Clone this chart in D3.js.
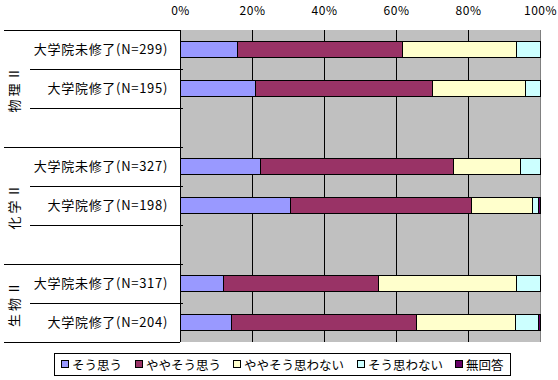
<!DOCTYPE html>
<html>
<head>
<meta charset="utf-8">
<script src="https://cdn.jsdelivr.net/npm/d3@7"></script>
<style>
  body { margin: 0; background: #fff; }
  svg { display: block; font-family: "Noto Sans CJK JP", sans-serif; }
</style>
</head>
<body>
<svg width="558" height="380"></svg>
<script>
// chart data
const groups = ['物理Ⅱ', '化学Ⅱ', '生物Ⅱ'];
const labels = ['大学院未修了(N=299)', '大学院修了(N=195)',
                '大学院未修了(N=327)', '大学院修了(N=198)',
                '大学院未修了(N=317)', '大学院修了(N=204)'];
const groupOf = [0, 0, 1, 1, 2, 2];
const series = ['そう思う', 'ややそう思う', 'ややそう思わない', 'そう思わない', '無回答'];
const soOmou      = [15.9, 21.1, 22.3, 30.8, 12.0, 14.3];
const yaya        = [45.9, 49.0, 53.6, 50.1, 43.1, 51.4];
const yayaNai     = [31.6, 25.8, 18.6, 17.1, 38.4, 27.5];
const omowanai    = [6.6, 4.1, 5.5, 1.5, 6.5, 6.3];
const mukaitou    = [0, 0, 0, 0.5, 0, 0.5];
const ticks = [0, 20, 40, 60, 80, 100];
const colors = ['#9999FF', '#993366', '#FFFFCC', '#CCFFFF', '#660066'];

const svg = d3.select('svg');
const plotL = 180, plotR = 540, plotT = 30, plotB = 342;

// rows: bars of each group, blank row between groups
const rows = [];
groups.forEach((g, gi) => {
    labels.forEach((l, i) => { if (groupOf[i] === gi) rows.push('b' + i); });
    if (gi < groups.length - 1) rows.push('gap' + gi);
});

const x = d3.scaleLinear().domain([0, 100]).range([plotL, plotR]);
const y = d3.scaleBand().domain(rows).range([plotT, plotB]);
const color = d3.scaleOrdinal().domain(series).range(colors);

const table = labels.map((l, i) => ({
    key: 'b' + i,
    'そう思う': soOmou[i], 'ややそう思う': yaya[i], 'ややそう思わない': yayaNai[i],
    'そう思わない': omowanai[i], '無回答': mukaitou[i]
}));
const stacked = d3.stack().keys(series)(table);

// plot background
svg.append('rect')
    .attr('x', plotL).attr('y', plotT)
    .attr('width', plotR - plotL).attr('height', plotB - plotT)
    .attr('fill', '#C0C0C0');

// vertical gridlines
svg.append('g').selectAll('line')
    .data(ticks.slice(1, -1))
    .join('line')
    .attr('x1', d => x(d)).attr('x2', d => x(d))
    .attr('y1', plotT).attr('y2', plotB)
    .attr('stroke', '#000').attr('stroke-width', 1)
    .attr('shape-rendering', 'crispEdges');

// right border
svg.append('line')
    .attr('x1', plotR).attr('x2', plotR).attr('y1', plotT).attr('y2', plotB)
    .attr('stroke', '#808080').attr('shape-rendering', 'crispEdges');

// bars
const barH = 16;
svg.append('g').selectAll('g')
    .data(stacked)
    .join('g')
    .attr('fill', d => color(d.key))
    .selectAll('rect')
    .data(d => d)
    .join('rect')
    .attr('x', d => x(d[0]))
    .attr('width', d => x(d[1]) - x(d[0]))
    .attr('y', d => y(d.data.key) + (y.bandwidth() - barH) / 2 - 0.5)
    .attr('height', barH)
    .attr('stroke', '#000').attr('stroke-width', 1)
    .attr('shape-rendering', 'crispEdges');

// left axis line
svg.append('line')
    .attr('x1', plotL).attr('x2', plotL).attr('y1', plotT).attr('y2', plotB)
    .attr('stroke', '#000').attr('shape-rendering', 'crispEdges');

// top axis labels
const xAxis = d3.axisTop(x).tickValues(ticks).tickSize(0).tickPadding(15)
    .tickFormat(d => d + '%');
svg.append('g')
    .attr('transform', `translate(0,${plotT})`)
    .call(xAxis)
    .call(g => g.select('.domain').remove())
    .selectAll('text')
    .attr('font-family', '"Noto Sans CJK JP", sans-serif')
    .attr('font-size', 12)
    .attr('letter-spacing', 0.5)
    .attr('fill', '#000');

// category separators
const rowEdges = rows.map(r => y(r)).concat([plotB]);
const groupStarts = groups.map((g, gi) => y('b' + groupOf.indexOf(gi)));
svg.append('g').selectAll('line')
    .data(rowEdges)
    .join('line')
    .attr('x1', d => (groupStarts.includes(d) || d === plotB) ? 4 : 30)
    .attr('x2', d => (d === plotT || d === plotB) ? plotL : plotL + 3)
    .attr('y1', d => Math.round(d)).attr('y2', d => Math.round(d))
    .attr('stroke', '#000').attr('shape-rendering', 'crispEdges');

// category labels
svg.append('g').selectAll('text')
    .data(labels)
    .join('text')
    .attr('x', 168)
    .attr('y', (d, i) => y('b' + i) + y.bandwidth() / 2 - 1)
    .attr('text-anchor', 'end')
    .attr('dominant-baseline', 'central')
    .attr('font-size', 13)
    .attr('letter-spacing', 0.7)
    .text(d => d);

// group labels (vertical)
svg.append('g').selectAll('text')
    .data(groups)
    .join('text')
    .attr('transform', (d, gi) => {
        const s = y('b' + groupOf.indexOf(gi));
        const e = gi < groups.length - 1 ? y('b' + groupOf.indexOf(gi + 1)) : plotB;
        return `translate(13,${(s + e) / 2}) rotate(-90)`;
    })
    .attr('text-anchor', 'middle')
    .attr('dominant-baseline', 'central')
    .attr('font-size', 13)
    .attr('letter-spacing', 3)
    .text(d => d);

// legend: swatch + text laid out by measured width
const boxL = 54.5, boxW = 456, pad = 6.5;
const legend = svg.append('g');
legend.append('rect')
    .attr('x', boxL).attr('y', 353.5).attr('width', boxW).attr('height', 22)
    .attr('fill', '#fff').attr('stroke', '#000');
const items = legend.selectAll('g')
    .data(series)
    .join('g');
items.append('rect')
    .attr('x', 0.5).attr('y', 0.5).attr('width', 7).attr('height', 7)
    .attr('fill', d => color(d)).attr('stroke', '#000');
items.append('text')
    .attr('x', 11).attr('y', 4.5)
    .attr('dominant-baseline', 'central')
    .attr('font-size', 12.5)
    .text(d => d);
const widths = [];
items.each(function () { widths.push(11 + this.querySelector('text').getComputedTextLength()); });
const gap = (boxW - 2 * pad - d3.sum(widths)) / (widths.length - 1);
let cx = boxL + pad;
items.attr('transform', (d, i) => {
    const t = `translate(${Math.round(cx)},360)`;
    cx += widths[i] + gap;
    return t;
});
</script>
</body>
</html>
